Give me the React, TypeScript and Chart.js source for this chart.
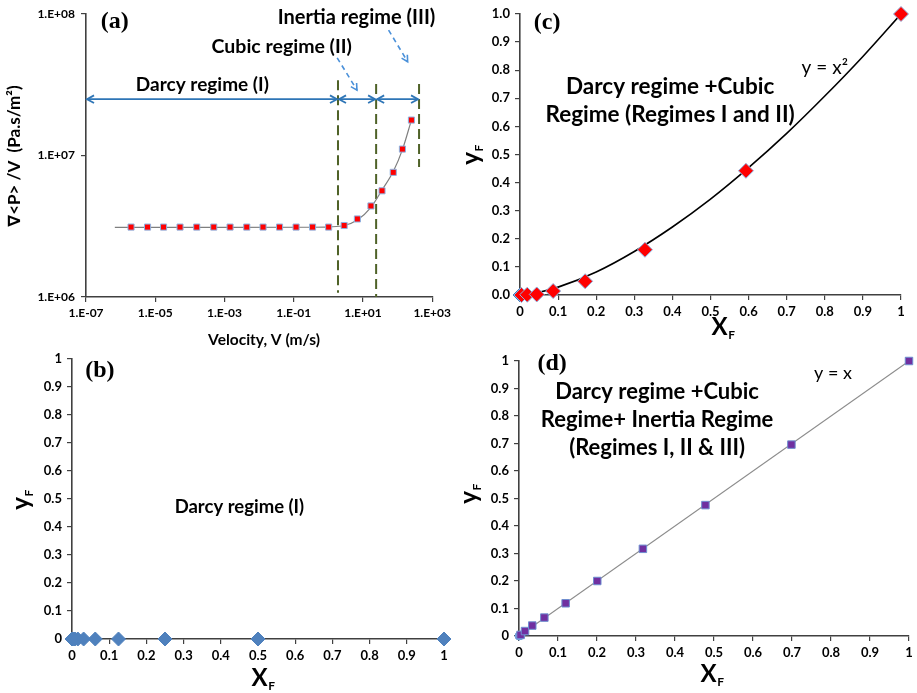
import React, { useEffect, useRef } from "react";
import { Chart, registerables } from "chart.js";
Chart.register(...registerables);

// ---------------- Panel (a): grad P / V versus velocity ----------------
const VEL = [2.0e-6, 6.0e-6, 1.74e-5, 5.2e-5, 1.58e-4, 4.9e-4, 1.45e-3, 4.4e-3, 1.3e-2, 3.9e-2, 0.117, 0.35, 1.02, 2.86, 6.9, 17, 35.5, 75, 138, 251];
const GRAD = [3.12e6, 3.12e6, 3.12e6, 3.12e6, 3.12e6, 3.12e6, 3.12e6, 3.12e6, 3.12e6, 3.12e6, 3.12e6, 3.12e6, 3.12e6, 3.2e6, 3.56e6, 4.4e6, 5.63e6, 7.6e6, 1.11e7, 1.78e7];
const FIT_VEL = [6.8e-7, 1.0e-3, 0.35, 1.02, 2.86, 6.9, 17, 35.5, 75, 138, 251];
const FIT_GRAD = [3.1e6, 3.1e6, 3.11e6, 3.13e6, 3.2e6, 3.5e6, 4.3e6, 5.7e6, 7.7e6, 1.1e7, 1.78e7];
const A_X_TICKS = [1e-7, 1e-5, 1e-3, 1e-1, 1e1, 1e3];
const A_X_LABELS = ["1.E-07", "1.E-05", "1.E-03", "1.E-01", "1.E+01", "1.E+03"];
const A_Y_TICKS = [1e6, 1e7, 1e8];
const A_Y_LABELS = ["1.E+06", "1.E+07", "1.E+08"];
// regime boundaries (velocity) and the extent of their dashed markers
const BOUND_V = [1.9, 24, 417];
const BOUND_TOP = [3.4e7, 3.2e7, 3.2e7];
const BOUND_BOTTOM = [1.07e6, 1.0e6, 8.3e6];
// regime spans shown by double-headed arrows
const SPAN_FROM = [1e-7, 1.9, 24];
const SPAN_TO = [1.9, 24, 417];
const SPAN_Y = 2.5e7;

// ---------------- Panel (b): Darcy regime ----------------
const XF_B = [0, 0.0039, 0.0078, 0.0156, 0.03125, 0.0625, 0.125, 0.25, 0.5, 1];
const YF_B = [0, 0, 0, 0, 0, 0, 0, 0, 0, 0];

// ---------------- Panel (c): Darcy + cubic ----------------
const XF_C = [0.004, 0.019, 0.044, 0.087, 0.171, 0.328, 0.593, 1.0];
const YF_C = [0.0, 0.001, 0.002, 0.014, 0.049, 0.161, 0.442, 1.0];
const XF_C_DARCY = [0, 0.0005, 0.001, 0.002, 0.004];
const YF_C_DARCY = [0, 0, 0, 0, 0];
const CURVE_C_X = [0, 0.05, 0.1, 0.2, 0.3, 0.4, 0.5, 0.6, 0.7, 0.8, 0.9, 1.0];
const CURVE_C_Y = [0, 0.0096, 0.028, 0.082, 0.155, 0.242, 0.341, 0.453, 0.575, 0.708, 0.849, 1.0];

// ---------------- Panel (d): all regimes ----------------
const XF_D = [0.004, 0.0154, 0.034, 0.065, 0.1196, 0.2007, 0.3177, 0.478, 0.6985, 1.0];
const YF_D = [0.004, 0.018, 0.038, 0.067, 0.119, 0.2, 0.317, 0.476, 0.696, 1.0];
const XF_D_LOW = [0, 0.002, 0.005];
const YF_D_LOW = [0, 0.001, 0.003];
const LINE_D_X = [0, 1];
const LINE_D_Y = [0, 1];

const UNIT_TICKS = [0, 0.1, 0.2, 0.3, 0.4, 0.5, 0.6, 0.7, 0.8, 0.9, 1];
const UNIT_LABELS = ["0", "0.1", "0.2", "0.3", "0.4", "0.5", "0.6", "0.7", "0.8", "0.9", "1"];
const UNIT_LABELS_C = ["0.0", "0.1", "0.2", "0.3", "0.4", "0.5", "0.6", "0.7", "0.8", "0.9", "1.0"];

const SANS = "Lato, 'Open Sans', 'DejaVu Sans', sans-serif";
const SERIF = "'Liberation Serif', 'DejaVu Serif', serif";

const pts = (xs: number[], ys: number[]) => xs.map((x, i) => ({ x, y: ys[i] }));

const tickFontA = { family: SANS, size: 12, weight: "bold" as const };
const tickFont = { family: SANS, size: 13, weight: "bold" as const };
const gridStyle = { drawOnChartArea: false, drawTicks: true, tickLength: 5, color: "#404040", lineWidth: 1.2 };
const borderStyle = { display: true, color: "#404040", width: 1.6 };

type Label = { text: string; x: number; y: number; size: number; weight?: string; family?: string };

function drawLabels(chart: any, labels: Label[]) {
  const ctx = chart.ctx;
  for (const l of labels) {
    const X = chart.scales.x.getPixelForValue(l.x);
    const Y = chart.scales.y.getPixelForValue(l.y);
    ctx.save();
    ctx.font = `${l.weight ?? "bold"} ${l.size}px ${l.family ?? SANS}`;
    ctx.fillStyle = "#000";
    ctx.textAlign = "center";
    ctx.textBaseline = "middle";
    ctx.fillText(l.text, X, Y);
    ctx.restore();
  }
}

function drawSubTitle(ctx: CanvasRenderingContext2D, main: string, sub: string, cx: number, cy: number, vertical: boolean) {
  ctx.save();
  ctx.translate(cx, cy);
  if (vertical) ctx.rotate(-Math.PI / 2);
  const mf = `bold 24px ${SANS}`;
  const sf = `bold 12px ${SANS}`;
  ctx.font = mf;
  const w1 = ctx.measureText(main).width;
  ctx.font = sf;
  const w2 = ctx.measureText(sub).width;
  const x0 = -(w1 + w2) / 2;
  ctx.fillStyle = "#000";
  ctx.textAlign = "left";
  ctx.textBaseline = "alphabetic";
  ctx.font = mf;
  ctx.fillText(main, x0, 7);
  ctx.font = sf;
  ctx.fillText(sub, x0 + w1 + 0.5, 11);
  ctx.restore();
}

function drawPlainTitle(ctx: CanvasRenderingContext2D, text: string, cx: number, cy: number, size: number, vertical: boolean) {
  ctx.save();
  ctx.translate(cx, cy);
  if (vertical) ctx.rotate(-Math.PI / 2);
  ctx.font = `bold ${size}px ${SANS}`;
  ctx.fillStyle = "#000";
  ctx.textAlign = "center";
  ctx.textBaseline = "middle";
  ctx.fillText(text, 0, 0);
  ctx.restore();
}

function arrowHead(ctx: CanvasRenderingContext2D, x: number, y: number, angle: number, size: number) {
  ctx.beginPath();
  ctx.moveTo(x - size * Math.cos(angle - 0.5), y - size * Math.sin(angle - 0.5));
  ctx.lineTo(x, y);
  ctx.lineTo(x - size * Math.cos(angle + 0.5), y - size * Math.sin(angle + 0.5));
  ctx.stroke();
}

function linearScales(opts: { yLabels: string[]; yWidth: number; xHeight: number }) {
  return {
    x: {
      type: "linear",
      min: 0,
      max: 1,
      afterBuildTicks: (s: any) => { s.ticks = UNIT_TICKS.map((v) => ({ value: v })); },
      afterFit: (s: any) => { s.height = opts.xHeight; },
      ticks: { color: "#000", font: tickFont, padding: 4, maxRotation: 0, autoSkip: false, callback: (_v: any, i: number) => UNIT_LABELS[i] },
      grid: gridStyle,
      border: borderStyle,
    },
    y: {
      type: "linear",
      min: 0,
      max: 1,
      afterBuildTicks: (s: any) => { s.ticks = UNIT_TICKS.map((v) => ({ value: v })); },
      afterFit: (s: any) => { s.width = opts.yWidth; },
      ticks: { color: "#000", font: tickFont, padding: 5, autoSkip: false, callback: (_v: any, i: number) => opts.yLabels[i] },
      grid: gridStyle,
      border: borderStyle,
    },
  };
}

const baseOptions = {
  responsive: false,
  animation: false,
  devicePixelRatio: 1,
  plugins: { legend: { display: false }, tooltip: { enabled: false } },
};

function configA(): any {
  return {
    type: "scatter",
    data: {
      datasets: [
        { data: pts(VEL, GRAD), pointStyle: "rect", pointRadius: 4.3, backgroundColor: "#ff0000", borderColor: "#8db3e2", borderWidth: 1, order: 0, clip: false },
        { data: pts(FIT_VEL, FIT_GRAD), showLine: true, pointRadius: 0, borderColor: "#7f7f7f", borderWidth: 1.2, cubicInterpolationMode: "monotone", order: 1 },
      ],
    },
    options: {
      ...baseOptions,
      layout: { padding: { left: 0, top: 14, right: 19, bottom: 0 } },
      scales: {
        x: {
          type: "logarithmic", min: 1e-7, max: 1e3,
          afterBuildTicks: (s: any) => { s.ticks = A_X_TICKS.map((v) => ({ value: v })); },
          afterFit: (s: any) => { s.height = 55; },
          ticks: { color: "#000", font: tickFontA, padding: 4, maxRotation: 0, autoSkip: false, callback: (_v: any, i: number) => A_X_LABELS[i] },
          grid: gridStyle, border: borderStyle,
        },
        y: {
          type: "logarithmic", min: 1e6, max: 1e8,
          afterBuildTicks: (s: any) => { s.ticks = A_Y_TICKS.map((v) => ({ value: v })); },
          afterFit: (s: any) => { s.width = 86; },
          ticks: { color: "#000", font: tickFontA, padding: 6, autoSkip: false, callback: (_v: any, i: number) => A_Y_LABELS[i] },
          grid: gridStyle, border: borderStyle,
        },
      },
    },
    plugins: [{
      id: "decoA",
      beforeDatasetsDraw(chart: any) {
        const ctx = chart.ctx as CanvasRenderingContext2D;
        const sx = chart.scales.x, sy = chart.scales.y;
        ctx.save();
        // regime boundaries
        ctx.strokeStyle = "#4f6228";
        ctx.lineWidth = 2;
        ctx.setLineDash([10, 5]);
        BOUND_V.forEach((v, i) => {
          const X = sx.getPixelForValue(v);
          ctx.beginPath();
          ctx.moveTo(X, sy.getPixelForValue(BOUND_TOP[i]));
          ctx.lineTo(X, sy.getPixelForValue(BOUND_BOTTOM[i]));
          ctx.stroke();
        });
        // double-headed regime arrows
        ctx.setLineDash([]);
        ctx.strokeStyle = "#2e75b6";
        ctx.lineWidth = 1.8;
        const Y = sy.getPixelForValue(SPAN_Y);
        SPAN_FROM.forEach((f, i) => {
          const X1 = sx.getPixelForValue(f), X2 = sx.getPixelForValue(SPAN_TO[i]);
          ctx.beginPath();
          ctx.moveTo(X1 + 1, Y);
          ctx.lineTo(X2 - 1, Y);
          ctx.stroke();
          arrowHead(ctx, X1 + 1, Y, Math.PI, 8);
          arrowHead(ctx, X2 - 1, Y, 0, 8);
        });
        // dashed pointer arrows
        const pointers = [
          [1.8, 4.9e7, 6.7, 2.9e7],
          [55, 7.7e7, 195, 4.6e7],
        ];
        ctx.strokeStyle = "#4a90d9";
        ctx.lineWidth = 1.6;
        pointers.forEach(([x1, y1, x2, y2]) => {
          const A = sx.getPixelForValue(x1), B = sy.getPixelForValue(y1);
          const C = sx.getPixelForValue(x2), D = sy.getPixelForValue(y2);
          ctx.setLineDash([5, 4]);
          ctx.beginPath();
          ctx.moveTo(A, B);
          ctx.lineTo(C, D);
          ctx.stroke();
          ctx.setLineDash([]);
          arrowHead(ctx, C, D, Math.atan2(D - B, C - A), 7);
        });
        ctx.restore();
      },
      afterDraw(chart: any) {
        drawLabels(chart, [
          { text: "Darcy regime (I)", x: 2.3e-4, y: 3.16e7, size: 19 },
          { text: "Cubic regime (II)", x: 0.045, y: 5.9e7, size: 19.5 },
          { text: "Inertia regime (III)", x: 6.5, y: 9.4e7, size: 20 },
          { text: "(a)", x: 6.8e-7, y: 8.8e7, size: 24, family: SERIF },
        ]);
        const ctx = chart.ctx;
        drawPlainTitle(ctx, "\u2207<P> /V  (Pa.s/m\u00b2)", 15, 156, 17, true);
        drawPlainTitle(ctx, "Velocity, V (m/s)", 264, 340, 15.5, false);
      },
    }],
  };
}

function configB(): any {
  return {
    type: "scatter",
    data: {
      datasets: [
        { data: pts(XF_B, YF_B), pointStyle: "rectRot", pointRadius: 7, backgroundColor: "#4f81bd", borderColor: "#4f81bd", borderWidth: 1, clip: false },
      ],
    },
    options: {
      ...baseOptions,
      layout: { padding: { left: 0, top: 14, right: 11, bottom: 0 } },
      scales: linearScales({ yLabels: UNIT_LABELS, yWidth: 72, xHeight: 54 }),
    },
    plugins: [{
      id: "decoB",
      afterDraw(chart: any) {
        drawLabels(chart, [
          { text: "Darcy regime (I)", x: 0.45, y: 0.47, size: 18.5 },
          { text: "(b)", x: 0.075, y: 0.957, size: 24, family: SERIF },
        ]);
        drawSubTitle(chart.ctx, "y", "F", 22, 155, true);
        drawSubTitle(chart.ctx, "X", "F", 263, 334, false);
      },
    }],
  };
}

function configC(): any {
  return {
    type: "scatter",
    data: {
      datasets: [
        { data: pts(XF_C, YF_C), pointStyle: "rectRot", pointRadius: 7.5, backgroundColor: "#ff0000", borderColor: "#8db3e2", borderWidth: 1, order: 0, clip: false },
        { data: pts(XF_C_DARCY, YF_C_DARCY), pointStyle: "rectRot", pointRadius: 7, backgroundColor: "#4f81bd", borderColor: "#4f81bd", borderWidth: 1, order: 1, clip: false },
        { data: pts(CURVE_C_X, CURVE_C_Y), showLine: true, pointRadius: 0, borderColor: "#000", borderWidth: 1.6, cubicInterpolationMode: "monotone", order: 2 },
      ],
    },
    options: {
      ...baseOptions,
      layout: { padding: { left: 0, top: 14, right: 16, bottom: 0 } },
      scales: linearScales({ yLabels: UNIT_LABELS_C, yWidth: 65, xHeight: 50 }),
    },
    plugins: [{
      id: "decoC",
      afterDraw(chart: any) {
        drawLabels(chart, [
          { text: "Darcy regime +Cubic", x: 0.394, y: 0.74, size: 22.5 },
          { text: "Regime (Regimes I and II)", x: 0.394, y: 0.64, size: 22.5 },
          { text: "y = x\u00b2", x: 0.80, y: 0.808, size: 19, weight: "normal" },
          { text: "(c)", x: 0.071, y: 0.97, size: 24, family: SERIF },
        ]);
        drawSubTitle(chart.ctx, "y", "F", 17, 155, true);
        drawSubTitle(chart.ctx, "X", "F", 268, 328, false);
      },
    }],
  };
}

function configD(): any {
  return {
    type: "scatter",
    data: {
      datasets: [
        { data: pts(XF_D, YF_D), pointStyle: "rect", pointRadius: 5.3, backgroundColor: "#7030a0", borderColor: "#6f8fd0", borderWidth: 1, order: 0, clip: false },
        { data: pts(XF_D_LOW, YF_D_LOW), pointStyle: "circle", pointRadius: 4, backgroundColor: "#8db3e2", borderColor: "#6fa0dc", borderWidth: 1, order: 1, clip: false },
        { data: pts(LINE_D_X, LINE_D_Y), showLine: true, pointRadius: 0, borderColor: "#8c8c8c", borderWidth: 1.1, order: 2 },
      ],
    },
    options: {
      ...baseOptions,
      layout: { padding: { left: 0, top: 16, right: 8, bottom: 0 } },
      scales: linearScales({ yLabels: UNIT_LABELS, yWidth: 64, xHeight: 57 }),
    },
    plugins: [{
      id: "decoD",
      afterDraw(chart: any) {
        drawLabels(chart, [
          { text: "Darcy regime +Cubic", x: 0.354, y: 0.887, size: 22 },
          { text: "Regime+ Inertia Regime", x: 0.354, y: 0.785, size: 22 },
          { text: "(Regimes I, II & III)", x: 0.354, y: 0.684, size: 22 },
          { text: "y = x", x: 0.805, y: 0.955, size: 18, weight: "normal" },
          { text: "(d)", x: 0.085, y: 0.99, size: 24, family: SERIF },
        ]);
        drawSubTitle(chart.ctx, "y", "F", 15, 149, true);
        drawSubTitle(chart.ctx, "X", "F", 257, 330, false);
      },
    }],
  };
}

function Panel({ left, top, width, height, build }: { left: number; top: number; width: number; height: number; build: () => any }) {
  const ref = useRef<HTMLCanvasElement | null>(null);
  useEffect(() => {
    if (!ref.current) return;
    const chart = new Chart(ref.current, build());
    return () => chart.destroy();
  }, []);
  return <canvas ref={ref} width={width} height={height} style={{ position: "absolute", left, top, width, height }} />;
}

export default function App() {
  return (
    <div style={{ position: "fixed", left: 0, top: 0, width: 917, height: 693, background: "#fff", overflow: "hidden" }}>
      <Panel left={455} top={0} width={462} height={345} build={configC} />
      <Panel left={0} top={345} width={455} height={348} build={configB} />
      <Panel left={455} top={345} width={462} height={348} build={configD} />
      <Panel left={0} top={0} width={455} height={352} build={configA} />
    </div>
  );
}
